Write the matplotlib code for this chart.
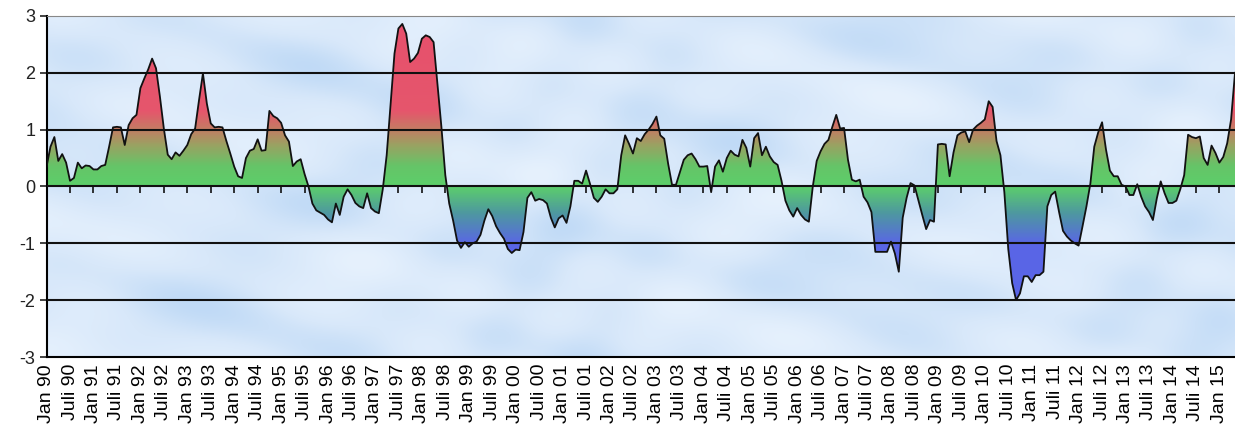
import numpy as np
import matplotlib
matplotlib.use('Agg')
import matplotlib.pyplot as plt
from matplotlib.colors import LinearSegmentedColormap

plt.rcParams['font.family'] = ['Liberation Sans', 'DejaVu Sans']
plt.rcParams['axes.unicode_minus'] = False

# monthly index values, Jan 1990 onwards
index_values = [
    0.35, 0.70, 0.87, 0.45, 0.57, 0.42, 0.10, 0.15, 0.42, 0.32, 0.37, 0.36,
    0.30, 0.30, 0.36, 0.38, 0.70, 1.04, 1.05, 1.04, 0.73, 1.08, 1.20, 1.26,
    1.73, 1.90, 2.06, 2.25, 2.08, 1.58, 1.02, 0.56, 0.48, 0.60, 0.54, 0.63,
    0.73, 0.92, 1.02, 1.52, 1.99, 1.46, 1.11, 1.04, 1.05, 1.04, 0.80, 0.58,
    0.35, 0.18, 0.15, 0.50, 0.63, 0.66, 0.83, 0.63, 0.64, 1.33, 1.24, 1.20,
    1.12, 0.90, 0.79, 0.36, 0.44, 0.48, 0.22, 0.00, -0.30, -0.42, -0.46, -0.50,
    -0.58, -0.63, -0.30, -0.50, -0.18, -0.05, -0.15, -0.29, -0.35, -0.38, -0.12, -0.38,
    -0.44, -0.47, -0.05, 0.55, 1.45, 2.34, 2.78, 2.86, 2.69, 2.19, 2.25, 2.35,
    2.60, 2.66, 2.63, 2.54, 1.80, 1.05, 0.20, -0.30, -0.60, -0.95, -1.08, -0.98,
    -1.06, -1.00, -0.97, -0.85, -0.60, -0.40, -0.52, -0.70, -0.82, -0.92, -1.10, -1.17,
    -1.11, -1.12, -0.80, -0.20, -0.10, -0.25, -0.22, -0.24, -0.30, -0.55, -0.72, -0.56,
    -0.51, -0.64, -0.35, 0.10, 0.10, 0.05, 0.28, 0.05, -0.20, -0.27, -0.18, -0.05,
    -0.12, -0.12, -0.05, 0.55, 0.90, 0.75, 0.58, 0.85, 0.80, 0.92, 1.00, 1.10,
    1.23, 0.90, 0.84, 0.40, 0.03, 0.03, 0.25, 0.47, 0.55, 0.58, 0.48, 0.35,
    0.35, 0.36, -0.10, 0.35, 0.46, 0.26, 0.50, 0.63, 0.56, 0.53, 0.82, 0.68,
    0.35, 0.85, 0.94, 0.55, 0.70, 0.53, 0.43, 0.38, 0.10, -0.25, -0.42, -0.53,
    -0.38, -0.50, -0.58, -0.62, 0.00, 0.45, 0.62, 0.75, 0.82, 1.05, 1.26, 1.02,
    1.03, 0.47, 0.12, 0.09, 0.12, -0.18, -0.28, -0.45, -1.15, -1.15, -1.15, -1.15,
    -0.97, -1.18, -1.50, -0.55, -0.20, 0.06, 0.02, -0.24, -0.50, -0.75, -0.59, -0.62,
    0.74, 0.75, 0.74, 0.18, 0.60, 0.90, 0.95, 0.97, 0.78, 1.00, 1.07, 1.12,
    1.18, 1.50, 1.40, 0.80, 0.55, -0.10, -1.10, -1.70, -2.00, -1.88, -1.58, -1.58,
    -1.68, -1.56, -1.56, -1.50, -0.35, -0.15, -0.09, -0.45, -0.78, -0.88, -0.95, -1.00,
    -1.04, -0.70, -0.35, 0.05, 0.70, 0.95, 1.13, 0.65, 0.28, 0.18, 0.18, 0.03,
    0.00, -0.15, -0.15, 0.04, -0.18, -0.35, -0.45, -0.59, -0.21, 0.09, -0.12, -0.29,
    -0.29, -0.25, -0.05, 0.20, 0.91, 0.87, 0.85, 0.88, 0.50, 0.38, 0.72, 0.59,
    0.42, 0.52, 0.76, 1.18, 2.00,
]
years = list(range(1990, 2016))
half_names = ['Jan', 'Juli']

y = np.array(index_values)
x = np.arange(len(y))

tick_pos = []
tick_lab = []
for k, yr in enumerate(years):
    for h, name in enumerate(half_names):
        m = k * 12 + h * 6
        if m < len(y):
            tick_pos.append(m)
            tick_lab.append('%s %02d' % (name, yr % 100))

fig = plt.figure(figsize=(12.35, 4.32), dpi=100)
ax = fig.add_axes([0.0377, 0.1736, 0.9623, 0.7894])
ax.set_xlim(0, len(y) - 1)
ax.set_ylim(-3, 3)

# cloudy light-blue background
gx, gy = np.meshgrid(np.linspace(0, 1, 400), np.linspace(0, 1, 140))
tex = (np.sin(gx * 23 + np.sin(gy * 7) * 2) + np.sin(gy * 17 + gx * 9 + 1.3)
       + 0.7 * np.sin(gx * 51 - gy * 13 + np.cos(gx * 11) * 2)
       + 0.6 * np.cos(gy * 31 + gx * 37))
tex = (tex - tex.min()) / (tex.max() - tex.min())
sky = LinearSegmentedColormap.from_list('sky', ['#c0daf6', '#d8e8fa', '#e6f1fd'])
ax.imshow(tex, cmap=sky, extent=[0, len(y) - 1, -3, 3], aspect='auto',
          origin='lower', zorder=0, interpolation='bicubic')

# vertical gradient for the filled area
grad = LinearSegmentedColormap.from_list('grad', [
    (0.0, '#5763ea'), (0.33, '#5a66e6'), (0.42, '#4e98a0'), (0.5, '#5ccf6a'),
    (0.56, '#66c468'), (0.62, '#9aa262'), (0.67, '#c67a64'), (0.72, '#e5566c'),
    (1.0, '#e8506c')])
poly = ax.fill_between(x, y, 0, color='none', zorder=2)
vals = np.linspace(0, 1, 600).reshape(-1, 1)
img = ax.imshow(vals, cmap=grad, extent=[0, len(y) - 1, -3, 3], aspect='auto',
                origin='lower', zorder=2)
img.set_clip_path(poly.get_paths()[0], transform=ax.transData)

for g in [-2, -1, 0, 1, 2]:
    ax.axhline(g, color='#111111', lw=1.5, zorder=3)
ax.plot(x, y, color='#111111', lw=1.3, zorder=4)

ax.set_yticks(range(-3, 4))
ax.tick_params(axis='y', length=5, width=1.2, labelsize=13, pad=3, colors='#222222')
ax.set_xticks(tick_pos)
ax.set_xticklabels(tick_lab, rotation=90, fontsize=14)
ax.tick_params(axis='x', length=0, pad=5)

# small tick marks hanging from the zero line
sec = ax.secondary_xaxis(0.5)
sec.set_xticks(tick_pos[1:])
sec.set_xticklabels([])
sec.xaxis.set_ticks_position('bottom')
sec.tick_params(axis='x', length=5, width=1.2, direction='out', colors='#111111')
sec.spines['bottom'].set_visible(False)
sec.spines['top'].set_visible(False)

ax.spines['right'].set_visible(False)
ax.spines['top'].set_color('#888888')
ax.spines['left'].set_linewidth(1.5)
ax.spines['bottom'].set_linewidth(1.5)

fig.savefig('out.png', dpi=100)
